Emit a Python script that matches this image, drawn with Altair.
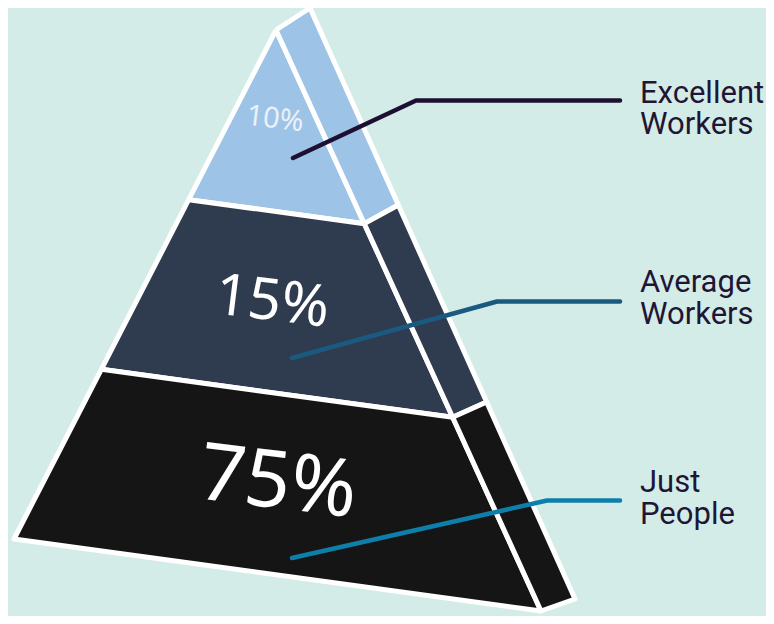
import altair as alt
import pandas as pd

# ---------------- data ----------------
categories = ["Excellent Workers", "Average Workers", "Just People"]
category_lines = [["Excellent", "Workers"], ["Average", "Workers"], ["Just", "People"]]
shares = [10, 15, 75]
pct_labels = [f"{v}%" for v in shares]

# ---------------- style ----------------
BG = "#D4ECE7"
seg_colors = ["#9DC3E6", "#2F3B4E", "#151515"]
leader_colors = ["#1E1033", "#1B5A80", "#0E7FAB"]
pct_colors = ["#EAF1F9", "#FFFFFF", "#FFFFFF"]
pct_sizes = [29, 58, 80]
TEXT_COLOR = "#1F1535"

# ---------------- layout (pixel frame of the picture) ----------------
APEX = (276, 30)
BASE_L = (14, 539)
BASE_R = (541, 611)
BACK_TOP = (310, 8)
BACK_BASE = (575, 599)
n = len(categories)
levels = [i / n for i in range(n + 1)]

pct_pos = [(275, 119), (272, 303), (278, 484)]
leader_pts = [
    [(293, 158), (416, 100.5), (620, 100.5)],
    [(292, 358), (497, 301.5), (620, 301.5)],
    [(292, 558), (547, 500.5), (620, 500.5)],
]
label_x = 640
label_baselines = [(103, 134), (292, 324), (492, 524)]


def lerp(p, q, t):
    return (p[0] + (q[0] - p[0]) * t, p[1] + (q[1] - p[1]) * t)


xs = alt.Scale(domain=[8, 766], nice=False, zero=False)
ys = alt.Scale(domain=[8, 616], nice=False, zero=False, reverse=True)

layers = []
for i in range(n):
    t0, t1 = levels[i], levels[i + 1]
    fl0, fl1 = lerp(APEX, BASE_L, t0), lerp(APEX, BASE_L, t1)
    fr0, fr1 = lerp(APEX, BASE_R, t0), lerp(APEX, BASE_R, t1)
    bk0, bk1 = lerp(BACK_TOP, BACK_BASE, t0), lerp(BACK_TOP, BACK_BASE, t1)
    for face, pts in (("front", [fl0, fr0, fr1, fl1, fl0]),
                      ("side", [fr0, bk0, bk1, fr1, fr0])):
        df = pd.DataFrame({
            "k": list(range(len(pts))),
            "x": [p[0] for p in pts],
            "y": [p[1] for p in pts],
            "segment": categories[i],
        })
        layers.append(
            alt.Chart(df).mark_line(
                fill=seg_colors[i], stroke="white", strokeWidth=5,
                strokeJoin="round", fillOpacity=1,
            ).encode(
                x=alt.X("x:Q", scale=xs, axis=None),
                y=alt.Y("y:Q", scale=ys, axis=None),
                order=alt.Order("k:Q"),
            )
        )

# leader lines
lrows = []
for i, pts in enumerate(leader_pts):
    for k, p in enumerate(pts):
        lrows.append({"segment": categories[i], "k": k, "x": p[0], "y": p[1]})
leaders = alt.Chart(pd.DataFrame(lrows)).mark_line(
    strokeWidth=4.5, strokeCap="round", strokeJoin="round"
).encode(
    x=alt.X("x:Q", scale=xs, axis=None),
    y=alt.Y("y:Q", scale=ys, axis=None),
    order=alt.Order("k:Q"),
    color=alt.Color("segment:N", scale=alt.Scale(domain=categories, range=leader_colors), legend=None),
    detail="segment:N",
)
layers.append(leaders)

# percentage labels
for i in range(n):
    dfp = pd.DataFrame({"x": [pct_pos[i][0]], "y": [pct_pos[i][1]], "t": [pct_labels[i]]})
    layers.append(
        alt.Chart(dfp).mark_text(
            font="Noto Sans", fontSize=pct_sizes[i], color=pct_colors[i],
            align="center", baseline="middle", angle=7,
        ).encode(
            x=alt.X("x:Q", scale=xs, axis=None),
            y=alt.Y("y:Q", scale=ys, axis=None),
            text="t:N",
        )
    )

# category labels (one text per line)
trows = []
for lines, bases in zip(category_lines, label_baselines):
    for line, yb in zip(lines, bases):
        trows.append({"x": label_x, "y": yb, "t": line})
layers.append(
    alt.Chart(pd.DataFrame(trows)).mark_text(
        font="Roboto", fontSize=31, color=TEXT_COLOR, align="left",
        baseline="alphabetic",
    ).encode(
        x=alt.X("x:Q", scale=xs, axis=None),
        y=alt.Y("y:Q", scale=ys, axis=None),
        text="t:N",
    )
)

chart = alt.layer(*layers).properties(
    width=758, height=608, background=BG, padding=0,
    autosize=alt.AutoSizeParams(type="none"),
).configure_view(stroke=None)

chart.save("out.html", embed_options={"renderer": "svg", "actions": False})
